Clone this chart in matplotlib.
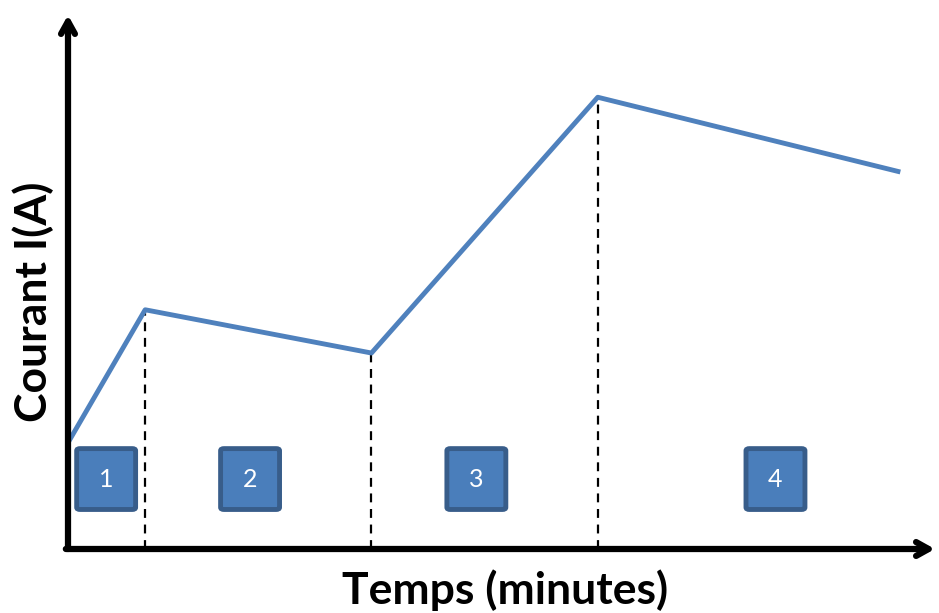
import matplotlib
matplotlib.use("Agg")
import matplotlib.pyplot as plt
from matplotlib.patches import FancyBboxPatch

# Data (arbitrary units)
temps = [0.0, 8.9, 35.0, 61.1, 96.0]
courant = [19.9, 44.8, 36.7, 84.6, 70.6]
phase_bounds = [8.9, 35.0, 61.1]
phase_labels = ["1", "2", "3", "4"]
phase_centers = [4.4, 21.0, 47.1, 81.6]
box_y = 13.1
box_w, box_h = 6.8, 11.4

fig = plt.figure(figsize=(9.39, 6.13), dpi=100)
ax = fig.add_axes([68/939, 1-549/613, 867/939, 534/613])
ax.set_xlim(0, 100)
ax.set_ylim(0, 100)
ax.axis("off")

line_col = "#4f81bd"
ax.plot(temps, courant, color=line_col, lw=3.5, solid_capstyle="butt", zorder=3)

for xb in phase_bounds:
    yv = courant[temps.index(xb)]
    ax.plot([xb, xb], [0, yv], color="black", lw=1.6, ls=(0, (4, 3)), zorder=2)

for c, lab in zip(phase_centers, phase_labels):
    p = FancyBboxPatch((c - box_w/2, box_y - box_h/2), box_w, box_h,
                       boxstyle="round,pad=0,rounding_size=0.4",
                       facecolor="#4a7ebb", edgecolor="#385d8a", lw=3.5, zorder=4)
    ax.add_patch(p)
    ax.text(c, box_y, lab, color="white", ha="center", va="center",
            fontsize=18, family="Lato", zorder=5)

# axes with arrows
ax.annotate("", xy=(0, 1.0), xytext=(0, 0), xycoords="axes fraction",
            arrowprops=dict(arrowstyle="->,head_length=0.9,head_width=0.5", lw=4.5,
                            color="black", shrinkA=0, shrinkB=0), zorder=6)
ax.annotate("", xy=(1.0, 0), xytext=(-0.0025, 0), xycoords="axes fraction",
            arrowprops=dict(arrowstyle="->,head_length=0.9,head_width=0.5", lw=4.5,
                            color="black", shrinkA=0, shrinkB=0), zorder=6)

fig.text(505/939, 1-590/613, "Temps (minutes)", ha="center", va="center",
         fontsize=32, fontweight="bold", family="Lato")
fig.text(33/939, 1-302/613, "Courant I(A)", ha="center", va="center", rotation=90,
         fontsize=32, fontweight="bold", family="Lato")

fig.savefig("out.png", dpi=100)
